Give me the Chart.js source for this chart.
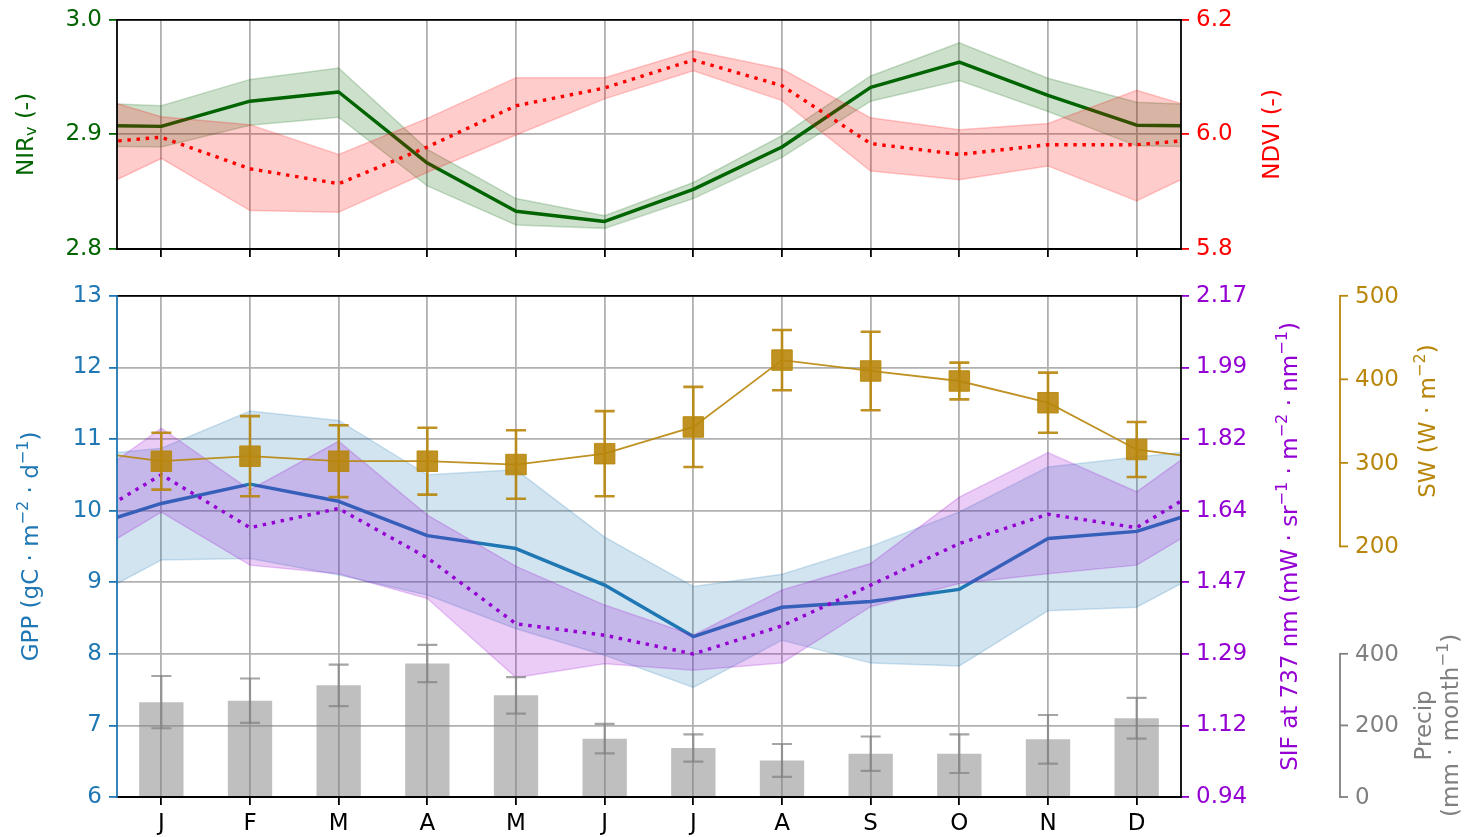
<!DOCTYPE html>
<html>
<head>
<meta charset="utf-8">
<script src="https://cdn.jsdelivr.net/npm/chart.js@4.4.1/dist/chart.umd.min.js"></script>
<style>
  html, body { margin: 0; padding: 0; background: #fff; }
  #wrap { position: relative; width: 1468px; height: 837px; overflow: hidden; background: #fff; }
  canvas { position: absolute; left: 0; }
  #topChart { top: -1px; }
  #bottomChart { top: 275px; }
</style>
</head>
<body>
<div id="wrap">
  <canvas id="topChart" width="1468" height="281"></canvas>
  <canvas id="bottomChart" width="1468" height="562"></canvas>
</div>
<script>
// ---- monthly climatology ----
const months = ['J', 'F', 'M', 'A', 'M', 'J', 'J', 'A', 'S', 'O', 'N', 'D'];

// NIRv (top panel, left axis): mean and spread envelope
const nirvMean = [2.907, 2.929, 2.937, 2.875, 2.833, 2.824, 2.852, 2.889, 2.941, 2.963, 2.934, 2.908];
const nirvHigh = [2.925, 2.948, 2.958, 2.887, 2.844, 2.829, 2.858, 2.899, 2.951, 2.980, 2.949, 2.928];
const nirvLow  = [2.889, 2.908, 2.915, 2.855, 2.821, 2.818, 2.844, 2.880, 2.929, 2.947, 2.920, 2.890];

// NDVI (top panel, right axis)
const ndviMean = [5.995, 5.940, 5.914, 5.978, 6.050, 6.081, 6.130, 6.085, 5.984, 5.965, 5.982, 5.982];
const ndviHigh = [6.031, 6.017, 5.965, 6.028, 6.099, 6.099, 6.146, 6.114, 6.029, 6.008, 6.019, 6.077];
const ndviLow  = [5.958, 5.867, 5.864, 5.934, 5.999, 6.062, 6.111, 6.059, 5.936, 5.921, 5.945, 5.884];

// GPP (bottom panel, left axis)
const gppMean = [10.10, 10.37, 10.13, 9.65, 9.47, 8.96, 8.24, 8.65, 8.73, 8.90, 9.61, 9.71];
const gppHigh = [10.87, 11.39, 11.26, 10.50, 10.57, 9.63, 8.94, 9.11, 9.50, 9.98, 10.61, 10.75];
const gppLow  = [9.31, 9.33, 9.10, 8.82, 8.35, 7.98, 7.53, 8.19, 7.87, 7.83, 8.60, 8.65];

// SIF at 737 nm (bottom panel, first right axis)
const sifMean = [1.731, 1.601, 1.648, 1.527, 1.365, 1.337, 1.291, 1.360, 1.460, 1.562, 1.634, 1.601];
const sifHigh = [1.845, 1.694, 1.813, 1.632, 1.506, 1.411, 1.337, 1.448, 1.513, 1.676, 1.785, 1.689];
const sifLow  = [1.639, 1.509, 1.488, 1.427, 1.233, 1.267, 1.251, 1.269, 1.407, 1.464, 1.488, 1.509];

// Shortwave radiation: mean and standard deviation
const swMean = [302, 308, 302, 302, 298, 311, 343, 423, 410, 398, 372, 316];
const swErr  = [34, 48, 43, 40, 41, 51, 48, 36, 47, 22, 36, 33];

// Precipitation: mean and standard deviation
const precipMean = [265, 269, 312, 373, 284, 163, 137, 102, 121, 121, 161, 220];
const precipErr  = [73, 62, 58, 52, 51, 41, 38, 46, 48, 54, 68, 57];

// axis ticks
const nirvTicks = [2.8, 2.9, 3.0];
const ndviTicks = [5.8, 6.0, 6.2];
const gppTicks = [6, 7, 8, 9, 10, 11, 12, 13];
const sifTickLabels = ['0.94', '1.12', '1.29', '1.47', '1.64', '1.82', '1.99', '2.17'];
const swTicks = [200, 300, 400, 500];
const precipTicks = [0, 200, 400];

// ---- styling ----
const FONT = 'DejaVu Sans';
const FS = 23;
const TICK = 8;
const LW_GRID = 1.8;
const LW_SPINE = 1.8;
const LW_LINE = 3.45;
const DOTS = [3.45, 5.7];
const GRID = '#b0b0b0';
const GREEN = '#006400', RED = '#ff0000', BLUE = '#1f77b4', PURPLE = '#9400d3', GOLD = '#b8860b', GRAY = '#808080';

function rgba(hex, a) {
  const n = parseInt(hex.slice(1), 16);
  return `rgba(${(n >> 16) & 255},${(n >> 8) & 255},${n & 255},${a})`;
}

Chart.defaults.font.family = FONT;
Chart.defaults.font.size = FS;

// the year is cyclic: December is repeated before January and January after December
function cyclic(values) {
  const n = values.length;
  return [{ x: 0, y: values[n - 1] }, ...values.map((v, i) => ({ x: i + 1, y: v })), { x: n + 1, y: values[0] }];
}
function monthly(values) {
  return values.map((v, i) => ({ x: i + 1, y: v }));
}
function whiskerPoints(mean, err) {
  const pts = [];
  mean.forEach((m, i) => {
    pts.push({ x: i + 1, y: m - err[i] }, { x: i + 1, y: m + err[i] }, { x: i + 1, y: null });
  });
  return pts;
}
function capPoints(mean, err, sign) {
  return mean.map((m, i) => ({ x: i + 1, y: m + sign * err[i] }));
}

function envelope(hi, lo, color, axis) {
  return [
    { type: 'line', data: cyclic(hi), yAxisID: axis, borderColor: rgba(color, 0.2), borderWidth: 1.5,
      backgroundColor: rgba(color, 0.2), fill: '+1', pointRadius: 0 },
    { type: 'line', data: cyclic(lo), yAxisID: axis, borderColor: rgba(color, 0.2), borderWidth: 1.5,
      fill: false, pointRadius: 0 }
  ];
}
function meanLine(values, color, axis, dotted) {
  return { type: 'line', data: cyclic(values), yAxisID: axis, borderColor: color, borderWidth: LW_LINE,
    borderDash: dotted ? DOTS : [], borderCapStyle: 'butt', borderJoinStyle: 'round', fill: false, pointRadius: 0 };
}
function whiskers(mean, err, color, axis, width) {
  return { type: 'line', data: whiskerPoints(mean, err), yAxisID: axis, borderColor: color, borderWidth: width,
    spanGaps: false, fill: false, pointRadius: 0 };
}
function caps(mean, err, sign, color, axis, width) {
  return { type: 'line', data: capPoints(mean, err, sign), yAxisID: axis, showLine: false,
    pointStyle: 'line', pointRadius: 10, pointBorderWidth: width, pointBorderColor: color, pointBackgroundColor: color };
}
function stackOrder(list) {
  list.forEach((d, i) => { d.order = list.length - i; });
  return list;
}

function monthAxis(showLabels, height) {
  return {
    type: 'linear', position: 'bottom', min: 0.5, max: 12.5, offset: false,
    afterBuildTicks: s => { s.ticks = months.map((m, i) => ({ value: i + 1 })); },
    afterFit: s => { s.height = height; },
    ticks: { display: showLabels, autoSkip: false, maxRotation: 0, minRotation: 0, color: '#000', padding: 5,
      font: { family: FONT, size: FS }, callback: (v, i) => months[i] },
    grid: { color: GRID, lineWidth: LW_GRID, offset: false, tickColor: '#000', tickLength: TICK, tickWidth: LW_SPINE },
    border: { display: false }
  };
}
function valueAxis(pos, min, max, tickVals, color, width, gridOn, fmt) {
  return {
    type: 'linear', position: pos, min, max,
    afterBuildTicks: s => { s.ticks = tickVals.map(v => ({ value: v })); },
    afterFit: s => { s.width = width; },
    ticks: { color, autoSkip: false, padding: 7, font: { family: FONT, size: FS }, callback: fmt },
    grid: { drawOnChartArea: gridOn, color: GRID, lineWidth: LW_GRID, tickColor: color, tickLength: TICK, tickWidth: LW_SPINE },
    border: { display: false }
  };
}

// rotated axis title, reading bottom to top, with super/subscript runs
function verticalLabel(ctx, xBase, yMid, runs, color) {
  const sizeOf = k => (k ? FS * 0.7 : FS);
  ctx.save();
  ctx.fillStyle = color;
  ctx.textAlign = 'left';
  ctx.textBaseline = 'alphabetic';
  let total = 0;
  runs.forEach(([t, k]) => { ctx.font = `${sizeOf(k)}px "${FONT}"`; total += ctx.measureText(t).width; });
  ctx.translate(xBase, yMid);
  ctx.rotate(-Math.PI / 2);
  let u = -total / 2;
  runs.forEach(([t, k]) => {
    ctx.font = `${sizeOf(k)}px "${FONT}"`;
    const dv = k === 'sup' ? -FS * 0.42 : k === 'sub' ? FS * 0.12 : 0;
    ctx.fillText(t, u, dv);
    u += ctx.measureText(t).width;
  });
  ctx.restore();
}

function spinePlugin(colors) {
  return {
    id: 'spines',
    afterDatasetsDraw(chart) {
      const { ctx, chartArea: a } = chart;
      ctx.save();
      ctx.lineWidth = LW_SPINE;
      ctx.lineCap = 'square';
      const seg = (c, x1, y1, x2, y2) => {
        ctx.strokeStyle = c; ctx.beginPath(); ctx.moveTo(x1, y1); ctx.lineTo(x2, y2); ctx.stroke();
      };
      seg(colors.top, a.left, a.top, a.right, a.top);
      seg(colors.bottom, a.left, a.bottom, a.right, a.bottom);
      seg(colors.right, a.right, a.top, a.right, a.bottom);
      seg(colors.left, a.left, a.top, a.left, a.bottom);
      ctx.restore();
    }
  };
}

// ---- top panel: NIRv and NDVI ----
const topTitles = {
  id: 'topTitles',
  afterDraw(chart) {
    const { ctx, chartArea: a } = chart;
    const mid = (a.top + a.bottom) / 2;
    verticalLabel(ctx, 33, mid, [['NIR', ''], ['v', 'sub'], [' (-)', '']], GREEN);
    verticalLabel(ctx, 1279, mid, [['NDVI (-)', '']], RED);
  }
};

new Chart(document.getElementById('topChart'), {
  type: 'line',
  data: {
    datasets: stackOrder([
      ...envelope(nirvHigh, nirvLow, GREEN, 'yN'),
      meanLine(nirvMean, GREEN, 'yN', false),
      ...envelope(ndviHigh, ndviLow, RED, 'yD'),
      meanLine(ndviMean, RED, 'yD', true)
    ])
  },
  options: {
    responsive: false, animation: false, devicePixelRatio: 1, events: [],
    layout: { padding: { top: 20, left: 0, right: 0, bottom: 0 }, autoPadding: false },
    plugins: { legend: { display: false }, tooltip: { enabled: false } },
    scales: {
      x: monthAxis(false, 31),
      yN: valueAxis('left', 2.8, 3.0, nirvTicks, GREEN, 117, true, v => v.toFixed(1)),
      yD: valueAxis('right', 5.8, 6.2, ndviTicks, RED, 287, false, v => v.toFixed(1))
    }
  },
  plugins: [spinePlugin({ top: '#000', bottom: '#000', left: '#000', right: '#000' }), topTitles]
});

// ---- bottom panel: GPP, SIF, shortwave and precipitation ----
function offsetAxis(ctx, scale, x0, ticks, color) {
  const yTop = scale.getPixelForValue(ticks[ticks.length - 1]);
  const yBot = scale.getPixelForValue(ticks[0]);
  ctx.save();
  ctx.strokeStyle = color;
  ctx.lineWidth = LW_SPINE;
  ctx.lineCap = 'square';
  ctx.beginPath(); ctx.moveTo(x0, yTop); ctx.lineTo(x0, yBot); ctx.stroke();
  ctx.fillStyle = color;
  ctx.font = `${FS}px "${FONT}"`;
  ctx.textAlign = 'left';
  ctx.textBaseline = 'middle';
  ticks.forEach(v => {
    const y = scale.getPixelForValue(v);
    ctx.lineCap = 'butt';
    ctx.beginPath(); ctx.moveTo(x0, y); ctx.lineTo(x0 + TICK, y); ctx.stroke();
    ctx.fillText(String(v), x0 + TICK + 7, y + 1);
  });
  ctx.restore();
  return (yTop + yBot) / 2;
}

const bottomExtras = {
  id: 'bottomExtras',
  afterDraw(chart) {
    const { ctx, chartArea: a, scales } = chart;
    const mid = (a.top + a.bottom) / 2;
    verticalLabel(ctx, 38, mid, [['GPP (gC · m', ''], ['−2', 'sup'], [' · d', ''], ['−1', 'sup'], [')', '']], BLUE);
    verticalLabel(ctx, 1297, mid, [['SIF at 737 nm (mW · sr', ''], ['−1', 'sup'], [' · m', ''], ['−2', 'sup'],
      [' · nm', ''], ['−1', 'sup'], [')', '']], PURPLE);
    const x0 = scales.yS.right;
    const swMid = offsetAxis(ctx, scales.ySW, x0, swTicks, GOLD);
    const pMid = offsetAxis(ctx, scales.yP, x0, precipTicks, GRAY);
    verticalLabel(ctx, 1435, swMid, [['SW (W · m', ''], ['−2', 'sup'], [')', '']], GOLD);
    verticalLabel(ctx, 1431, pMid, [['Precip', '']], GRAY);
    verticalLabel(ctx, 1458, pMid, [['(mm · month', ''], ['−1', 'sup'], [')', '']], GRAY);
  }
};

const goldA = rgba(GOLD, 0.9);
const grayA = rgba(GRAY, 0.7);

new Chart(document.getElementById('bottomChart'), {
  type: 'line',
  data: {
    datasets: stackOrder([
      ...envelope(gppHigh, gppLow, BLUE, 'yG'),
      meanLine(gppMean, BLUE, 'yG', false),
      ...envelope(sifHigh, sifLow, PURPLE, 'yS'),
      meanLine(sifMean, PURPLE, 'yS', true),
      { type: 'bar', data: monthly(precipMean), yAxisID: 'yP', backgroundColor: rgba(GRAY, 0.5), borderWidth: 0,
        barPercentage: 0.5, categoryPercentage: 1.0, grouped: false },
      whiskers(precipMean, precipErr, grayA, 'yP', 2.2),
      caps(precipMean, precipErr, 1, grayA, 'yP', 2.2),
      caps(precipMean, precipErr, -1, grayA, 'yP', 2.2),
      { type: 'line', data: cyclic(swMean), yAxisID: 'ySW', borderColor: goldA, borderWidth: 1.8, fill: false, pointRadius: 0 },
      whiskers(swMean, swErr, goldA, 'ySW', 2.6),
      caps(swMean, swErr, 1, goldA, 'ySW', 2.6),
      caps(swMean, swErr, -1, goldA, 'ySW', 2.6),
      { type: 'line', data: monthly(swMean), yAxisID: 'ySW', showLine: false, pointStyle: 'rect', pointRadius: 14.5,
        pointBackgroundColor: goldA, pointBorderColor: goldA, pointBorderWidth: 1 }
    ])
  },
  options: {
    responsive: false, animation: false, devicePixelRatio: 1, events: [],
    layout: { padding: { top: 20, left: 0, right: 128, bottom: 0 }, autoPadding: false },
    plugins: { legend: { display: false }, tooltip: { enabled: false } },
    scales: {
      x: monthAxis(true, 40),
      yG: valueAxis('left', 6, 13, gppTicks, BLUE, 117, true, v => String(v)),
      yS: valueAxis('right', 0.94, 2.17, sifTickLabels.map((t, i) => 0.94 + i * (2.17 - 0.94) / (sifTickLabels.length - 1)),
        PURPLE, 159, false, (v, i) => sifTickLabels[i]),
      ySW: { type: 'linear', display: false, min: -100, max: 500 },
      yP: { type: 'linear', display: false, min: 0, max: 1400 }
    }
  },
  plugins: [spinePlugin({ top: '#000', bottom: '#000', left: BLUE, right: '#000' }), bottomExtras]
});
</script>
</body>
</html>
